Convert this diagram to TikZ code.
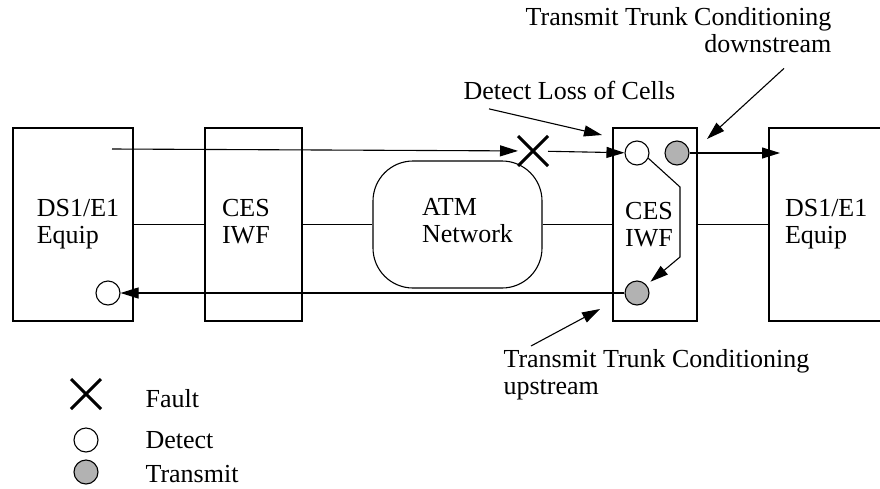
\documentclass[tikz,border=0pt]{standalone}
\usepackage{fontspec}
\setmainfont{Liberation Serif}
\usetikzlibrary{arrows.meta,shapes.misc,calc}

\definecolor{txgray}{gray}{0.70}

\begin{document}
\begin{tikzpicture}[x=1pt, y=-1pt, line width=1.1pt,
    font=\fontsize{26}{27}\selectfont,
    block/.style={draw, rectangle, minimum width=#1, minimum height=193pt, inner sep=0pt},
    detect/.style={draw, circle, minimum size=24pt, inner sep=0pt, fill=white},
    transmit/.style={detect, fill=txgray},
    fault/.style={draw, cross out, minimum size=27pt, inner sep=0pt, line width=3pt},
    tip/.style={-{Triangle[length=18pt, width=11pt]}},
    txt/.style={inner sep=0pt, align=left}]
  \useasboundingbox (0,0) rectangle (880,488);

  % Chain of units
  \node[block=120pt] (dsL) at (73,224.5) {};
  \node[block=97pt] (cesL) at (253.5,224.5) {};
  \node[draw, rounded corners=40pt, minimum width=169pt, minimum height=127pt,
        inner sep=0pt] (atm) at (457.5,224.5) {};
  \node[block=84pt] (cesR) at (655,224.5) {};
  \node[block=131pt] (dsR) at (834.5,224.5) {};
  \node[txt] (dsLtxt) at ([xshift=5pt]dsL.center) {DS1/E1\\Equip};
  \node[txt] (cesLtxt) at ([xshift=-7.6pt, yshift=3pt]cesL.center) {CES\\IWF};
  \node[txt] (atmtxt) at ([xshift=10pt, yshift=4pt]atm.center) {ATM\\Network};
  \node[txt] (cesRtxt) at ([xshift=-6pt]cesR.center) {CES\\IWF};
  \node[txt] (dsRtxt) at ([xshift=-8.3pt]dsR.center) {DS1/E1\\Equip};
  \draw (dsL) -- (cesL) (cesL) -- (atm) (atm) -- (cesR) (cesR) -- (dsR);

  % Fault, detect and transmit points
  \node[fault] (flt) at (533,151) {};
  \node[detect] (det1) at (637,153) {};
  \node[transmit] (tx1) at (677,153) {};
  \node[transmit] (tx2) at (637,293) {};
  \node[detect] (detL) at (108,293) {};
  \coordinate (sendL) at (112,149);
  \coordinate (dsRin) at (780,153);

  % Signal paths
  \draw[tip] (sendL) -- (flt);
  \draw[tip] (flt) -- (det1);
  \draw[tip] (tx1) -- (dsRin);
  \draw[tip, shorten >=5pt] (det1.-25) -- (680,187) -- (680,257) -- (tx2.40);
  \draw[tip] (tx2) -- (detL);

  % Annotations
  \node[txt, anchor=north west] (lblLoss) at (463,80.2) {Detect Loss of Cells};
  \node[txt, anchor=north east, align=right] (lblDown) at (832,7)
    {Transmit Trunk Conditioning\\downstream};
  \node[txt, anchor=north west] (lblUp) at (503,349)
    {Transmit Trunk Conditioning\\upstream};
  \coordinate (lossTip) at (602,135);
  \coordinate (downTip) at (707,139);
  \coordinate (upTip) at (600,309);
  \draw[tip] ($(lblLoss.south west)+(26,9)$) -- (lossTip);
  \draw[tip] ($(lblDown.south east)+(-48,15)$) -- (downTip);
  \draw[tip] ($(lblUp.north west)+(28,-3)$) -- (upTip);

  % Legend
  \node[fault] (keyFlt) at (86,394) {};
  \node[detect] (keyDet) at (86,440) {};
  \node[transmit] (keyTx) at (86,472) {};
  \node[anchor=base west, inner sep=0pt] (keyFltTxt) at (145,407) {Fault};
  \node[anchor=base west, inner sep=0pt] (keyDetTxt) at (145,448) {Detect};
  \node[anchor=base west, inner sep=0pt] (keyTxTxt) at (145,482) {Transmit};
\end{tikzpicture}
\end{document}
